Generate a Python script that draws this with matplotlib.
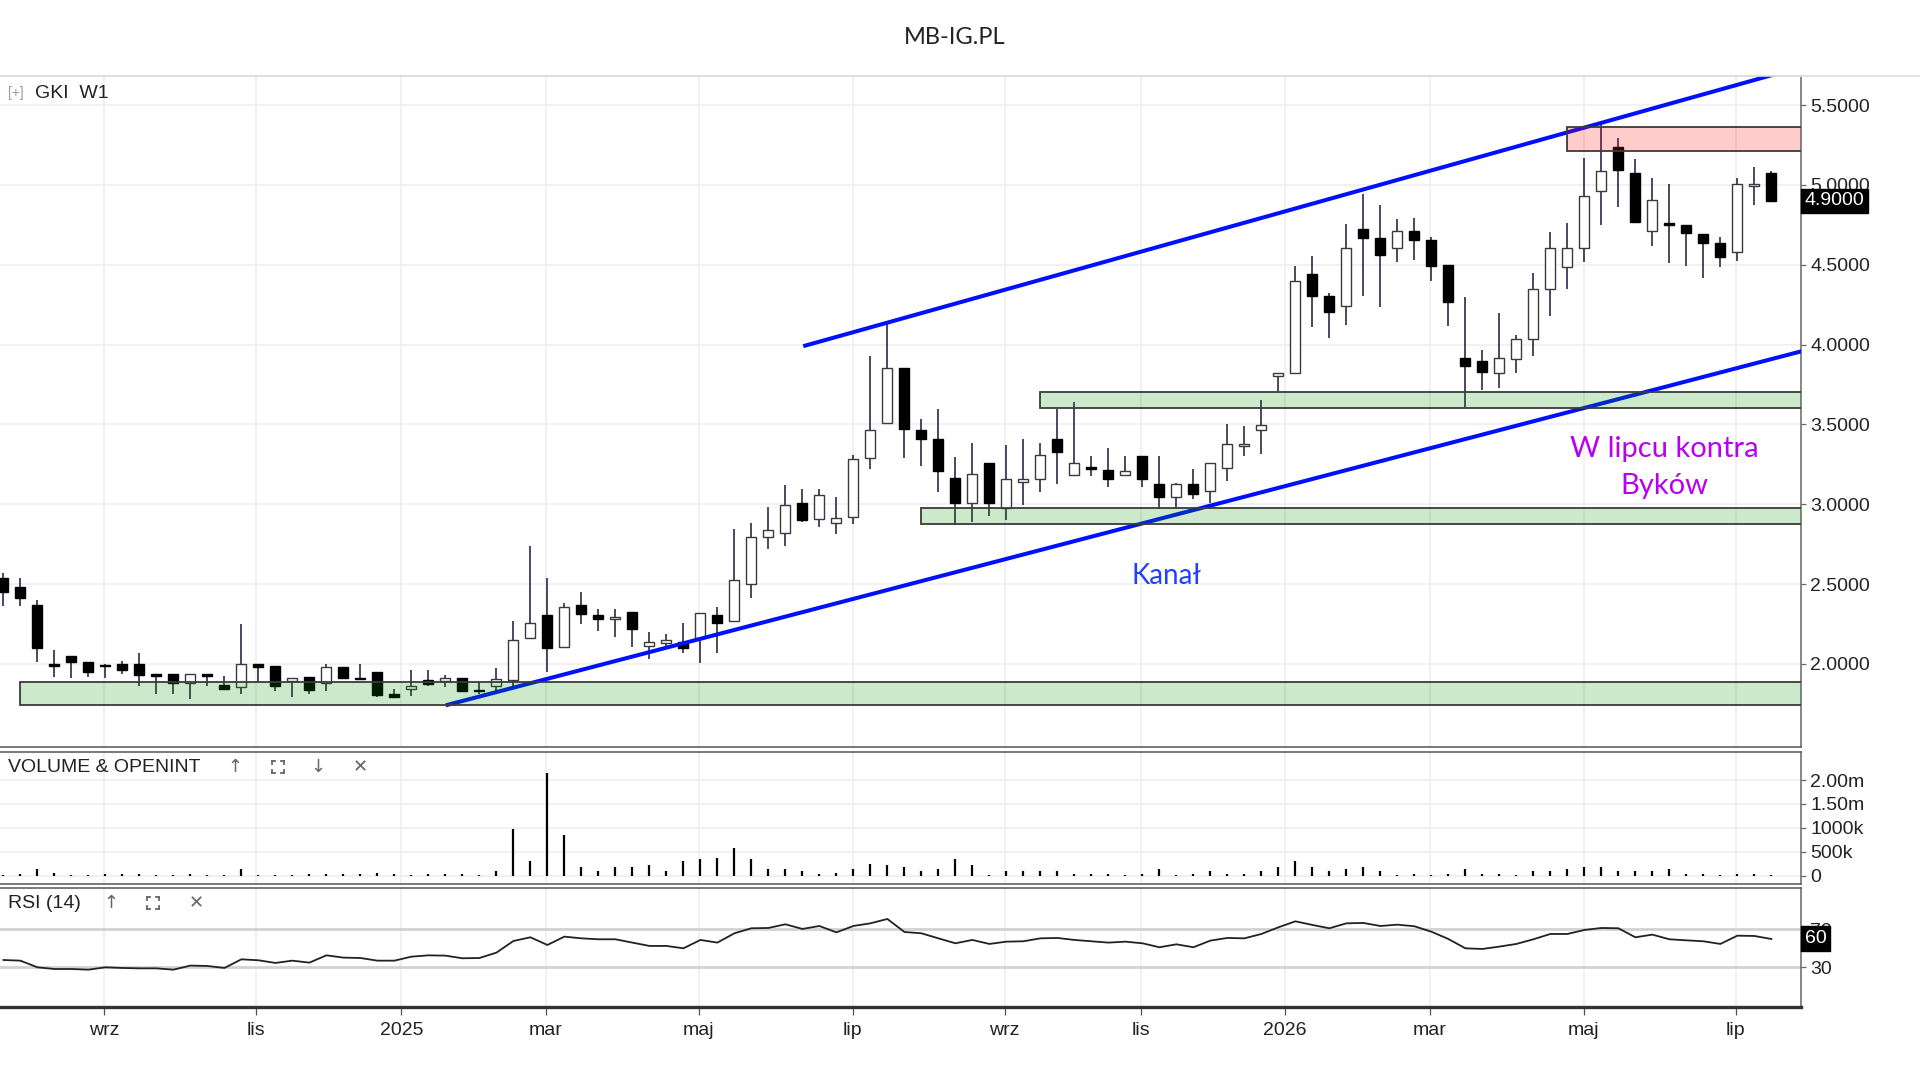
import datetime as dt
import matplotlib
matplotlib.use("Agg")
import matplotlib.pyplot as plt
import matplotlib.dates as mdates
import matplotlib.transforms as mtransforms
from matplotlib.patches import Rectangle
from matplotlib.lines import Line2D

plt.rcParams['font.family'] = ['Liberation Sans', 'DejaVu Sans']

# ---------------- data (weekly candles) ----------------
opens = [2.54, 2.48, 2.37, 2.00, 2.05, 2.01, 1.99, 2.00, 2.00, 1.94,
         1.94, 1.88, 1.94, 1.866, 1.856, 2.00, 1.986, 1.893, 1.918, 1.883,
         1.979, 1.909, 1.949, 1.811, 1.846, 1.899, 1.893, 1.909, 1.831, 1.862,
         1.90, 2.16, 2.306, 2.104, 2.369, 2.306, 2.279, 2.327, 2.115, 2.129,
         2.14, 2.16, 2.306, 2.269, 2.498, 2.796, 2.821, 3.01, 2.906, 2.883,
         2.921, 3.29, 3.508, 3.852, 3.4625, 3.41, 3.167, 3.008, 3.26, 2.977,
         3.14, 3.156, 3.41, 3.181, 3.233, 3.2125, 3.181, 3.30, 3.129, 3.046,
         3.125, 3.083, 3.227, 3.365, 3.4625, 3.806, 3.819, 4.441, 4.304, 4.241,
         4.726, 4.669, 4.605, 4.709, 4.652, 4.498, 3.914, 3.899, 3.819, 3.907,
         4.034, 4.35, 4.487, 4.603, 4.964, 5.236, 5.074, 4.709, 4.764, 4.747,
         4.69, 4.635, 4.582, 4.994, 5.074]
highs = [2.57, 2.54, 2.40, 2.09, 2.05, 2.01, 2.00, 2.02, 2.07, 1.94,
         1.94, 1.94, 1.94, 1.924, 2.25, 2.00, 1.986, 1.909, 1.918, 2.00,
         1.979, 2.00, 1.949, 1.846, 1.965, 1.963, 1.93, 1.909, 1.889, 1.975,
         2.27, 2.74, 2.54, 2.379, 2.452, 2.342, 2.342, 2.327, 2.198, 2.19,
         2.254, 2.321, 2.358, 2.844, 2.883, 2.983, 3.119, 3.094, 3.094, 3.046,
         3.306, 3.931, 4.133, 3.852, 3.531, 3.594, 3.296, 3.383, 3.26, 3.369,
         3.406, 3.383, 3.594, 3.64, 3.302, 3.352, 3.302, 3.30, 3.302, 3.135,
         3.223, 3.26, 3.50, 3.49, 3.656, 3.823, 4.494, 4.557, 4.325, 4.753,
         4.943, 4.873, 4.785, 4.793, 4.673, 4.498, 4.30, 3.966, 4.198, 4.057,
         4.451, 4.705, 4.762, 5.169, 5.39, 5.291, 5.165, 5.046, 5.006, 4.747,
         4.69, 4.673, 5.046, 5.11, 5.084]
lows = [2.36, 2.36, 2.01, 1.92, 1.91, 1.92, 1.91, 1.94, 1.86, 1.815,
        1.815, 1.78, 1.86, 1.846, 1.815, 1.89, 1.831, 1.794, 1.815, 1.831,
        1.903, 1.903, 1.79, 1.79, 1.80, 1.862, 1.856, 1.825, 1.811, 1.831,
        1.86, 2.16, 1.952, 2.104, 2.248, 2.206, 2.171, 2.108, 2.029, 2.098,
        2.067, 2.004, 2.067, 2.269, 2.41, 2.723, 2.74, 2.89, 2.858, 2.817,
        2.879, 3.223, 3.508, 3.29, 3.2375, 3.077, 2.869, 2.89, 2.927, 2.904,
        2.996, 3.077, 3.125, 3.181, 3.175, 3.108, 3.175, 3.108, 2.973, 2.973,
        3.031, 3.008, 3.146, 3.302, 3.317, 3.708, 3.819, 4.108, 4.044, 4.12,
        4.304, 4.234, 4.519, 4.532, 4.399, 4.114, 3.612, 3.717, 3.728, 3.819,
        3.93, 4.177, 4.35, 4.519, 4.747, 4.859, 4.768, 4.62, 4.508, 4.494,
        4.414, 4.487, 4.525, 4.873, 4.90]
closes = [2.45, 2.41, 2.10, 1.99, 2.01, 1.95, 1.985, 1.96, 1.93, 1.925,
          1.88, 1.94, 1.925, 1.846, 2.00, 1.98, 1.862, 1.909, 1.837, 1.979,
          1.913, 1.905, 1.807, 1.79, 1.862, 1.877, 1.909, 1.831, 1.828, 1.907,
          2.148, 2.258, 2.098, 2.358, 2.31, 2.281, 2.296, 2.217, 2.14, 2.15,
          2.102, 2.321, 2.254, 2.525, 2.792, 2.838, 2.994, 2.904, 3.056, 2.915,
          3.281, 3.463, 3.852, 3.469, 3.406, 3.208, 3.008, 3.1875, 3.008, 3.156,
          3.156, 3.306, 3.327, 3.258, 3.223, 3.16, 3.206, 3.156, 3.046, 3.129,
          3.0625, 3.26, 3.375, 3.375, 3.494, 3.823, 4.399, 4.304, 4.203, 4.605,
          4.667, 4.563, 4.709, 4.658, 4.494, 4.268, 3.865, 3.829, 3.914, 4.034,
          4.35, 4.605, 4.605, 4.93, 5.089, 5.095, 4.768, 4.905, 4.747, 4.698,
          4.635, 4.551, 5.006, 5.006, 4.90]
volume_m = [0.02, 0.03, 0.14, 0.057, 0.02, 0.02, 0.04, 0.03, 0.04, 0.02,
            0.02, 0.04, 0.005, 0.02, 0.14, 0.005, 0.02, 0.02, 0.03, 0.04,
            0.03, 0.04, 0.06, 0.04, 0.02, 0.04, 0.04, 0.03, 0.02, 0.09,
            0.98, 0.30, 2.15, 0.84, 0.17, 0.09, 0.18, 0.18, 0.23, 0.09,
            0.30, 0.34, 0.37, 0.57, 0.34, 0.14, 0.14, 0.09, 0.04, 0.06,
            0.14, 0.25, 0.23, 0.18, 0.09, 0.14, 0.35, 0.23, 0.02, 0.09,
            0.09, 0.09, 0.09, 0.04, 0.04, 0.04, 0.02, 0.04, 0.14, 0.02,
            0.04, 0.09, 0.04, 0.03, 0.09, 0.18, 0.30, 0.18, 0.09, 0.14,
            0.18, 0.09, 0.02, 0.04, 0.02, 0.04, 0.14, 0.04, 0.04, 0.02,
            0.09, 0.09, 0.13, 0.18, 0.19, 0.09, 0.09, 0.09, 0.13, 0.04,
            0.04, 0.02, 0.04, 0.04, 0.02]
rsi = [37.7, 37.0, 30.0, 28.2, 28.2, 27.5, 30.0, 29.3, 28.9, 28.9,
       27.5, 31.8, 31.4, 29.3, 38.4, 37.4, 34.6, 37.0, 34.9, 42.6,
       40.2, 39.8, 37.0, 37.0, 41.2, 42.6, 42.3, 39.5, 39.8, 45.4,
       57.7, 61.6, 53.5, 62.3, 60.5, 59.5, 59.5, 56.0, 52.5, 52.5,
       50.0, 58.8, 56.0, 65.8, 71.1, 71.4, 75.3, 70.4, 73.5, 66.8,
       73.5, 76.3, 80.9, 67.2, 65.8, 60.5, 55.3, 58.8, 54.6, 57.0,
       57.4, 60.5, 60.9, 58.8, 57.4, 56.0, 57.0, 55.3, 51.1, 54.2,
       51.1, 58.1, 60.9, 60.5, 65.1, 72.1, 78.4, 74.6, 71.1, 76.3,
       76.7, 73.5, 74.9, 73.2, 67.5, 59.8, 50.0, 49.3, 51.8, 54.6,
       59.5, 65.1, 65.1, 69.3, 71.4, 71.1, 61.6, 64.4, 59.5, 58.4,
       57.4, 54.6, 63.3, 63.0, 59.8]

first_week = dt.date(2024, 7, 19)

# zones: start candle index (0-based), low, high
zone_start = [1, 54, 61, 92]
zone_low = [1.745, 2.875, 3.605, 5.215]
zone_high = [1.885, 2.975, 3.70, 5.365]
zone_kind = ['support', 'support', 'support', 'resistance']

# trend lines: candle index (0-based, fractional) and price
upper_idx = [47.05, 104.25]
upper_price = [3.99, 5.694]
lower_idx = [26.02, 109.0]
lower_price = [1.741, 4.048]

# month labels and their positions (in candle index units)
month_labels = ['wrz', 'lis', '2025', 'mar', 'maj', 'lip',
                'wrz', 'lis', '2026', 'mar', 'maj', 'lip']
month_tick_idx = [5.92, 14.85, 23.41, 31.91, 40.91, 49.97,
                  58.90, 66.90, 75.39, 83.89, 92.97, 101.89]

price_ticks = [2.0, 2.5, 3.0, 3.5, 4.0, 4.5, 5.0, 5.5]
vol_ticks = [0.0, 0.5, 1.0, 1.5, 2.0]
vol_labels = ['0', '500k', '1000k', '1.50m', '2.00m']
rsi_ticks = [30, 70]
last_price = 4.90
last_rsi = 60

# ---------------- helpers ----------------
dates = [first_week + dt.timedelta(days=7 * i) for i in range(len(opens))]
xd = mdates.date2num(dates)
x0 = xd[0]


def at_idx(i):
    return x0 + 7.0 * i


W, H = 1920, 1080
fig = plt.figure(figsize=(19.2, 10.8), dpi=100)
fig.patch.set_facecolor('white')

right = 1801 / W
ax = fig.add_axes([0, 1 - 747 / H, right, (747 - 76) / H])
axv = fig.add_axes([0, 1 - 884 / H, right, (884 - 752) / H], sharex=ax)
axr = fig.add_axes([0, 1 - 1007 / H, right, (1007 - 888) / H], sharex=ax)

xlim = (x0 - 1.4, x0 + 740.2)
tick_nums = [at_idx(i) for i in month_tick_idx]
grid_c = '#eeeeee'

for a in (ax, axv, axr):
    a.set_xlim(*xlim)
    a.set_xticks(tick_nums)
    a.grid(True, color=grid_c, lw=1.1)
    a.set_axisbelow(True)
    a.yaxis.tick_right()
    a.spines['left'].set_visible(False)
    for s in ('top', 'bottom'):
        a.spines[s].set_color('#555555')
        a.spines[s].set_linewidth(1.1)
    a.spines['right'].set_color('#666666')
    a.spines['right'].set_linewidth(1.1)
    a.tick_params(axis='y', direction='out', length=3.5, width=0.9, pad=3,
                  labelsize=14, colors='#666666', labelcolor='#222222')
    a.tick_params(axis='x', length=0, labelbottom=False)

ax.spines['top'].set_color('#dddddd')
axr.spines['bottom'].set_linewidth(2.4)
axr.spines['bottom'].set_color('#333333')

# ---------------- main price panel ----------------
ax.set_ylim(1.48, 5.682)
ax.set_yticks(price_ticks)
ax.set_yticklabels(['%.4f' % p for p in price_ticks])

ax.vlines(xd, lows, highs, colors='#16163e', lw=1.1, zorder=2)
bottoms, heights, faces, edges = [], [], [], []
for o, c in zip(opens, closes):
    bottoms.append(min(o, c))
    heights.append(max(abs(c - o), 0.008))
    up = c >= o
    faces.append('white' if up else 'black')
    edges.append('#3a3a3a' if up else 'black')
ax.bar(xd, heights, bottom=bottoms, width=4.2, color=faces,
       edgecolor=edges, linewidth=1.0, zorder=3)

# trend lines
ax.plot([at_idx(i) for i in upper_idx], upper_price, color='#0010ff',
        lw=2.9, solid_capstyle='butt', zorder=4)
ax.plot([at_idx(i) for i in lower_idx], lower_price, color='#0010ff',
        lw=2.9, solid_capstyle='butt', zorder=4)

# zones
for s, lo, hi, kind in zip(zone_start, zone_low, zone_high, zone_kind):
    fc = (0.0, 0.57, 0.0, 0.2) if kind == 'support' else (1.0, 0.0, 0.0, 0.2)
    r = Rectangle((at_idx(s), lo), xlim[1] + 30 - at_idx(s), hi - lo,
                  facecolor=fc, edgecolor='#3a3a3a', lw=1.3, zorder=5)
    ax.add_patch(r)

ax.text(at_idx(68.4), 2.55, 'Kanał', color='#1f40ff', fontsize=20,
        family=['Lato', 'DejaVu Sans'], ha='center', va='center', zorder=6)
ax.text(at_idx(97.7), 3.23, 'W lipcu kontra\nByków', color='#b800f0',
        fontsize=21, family=['Lato', 'DejaVu Sans'], ha='center',
        va='center', linespacing=1.55, zorder=6)

# last price tag
trans_p = mtransforms.blended_transform_factory(ax.transAxes, ax.transData)
ax.text(1.002, last_price, '%.4f' % last_price, transform=trans_p,
        ha='left', va='center', color='white', fontsize=14, zorder=10,
        bbox=dict(boxstyle='square,pad=0.18', facecolor='black',
                  edgecolor='black'))

# ---------------- volume panel ----------------
axv.set_ylim(-0.176, 2.586)
axv.set_yticks(vol_ticks)
axv.set_yticklabels(vol_labels)
axv.vlines(xd, 0, volume_m, colors='black', lw=1.6, zorder=3)

# ---------------- RSI panel ----------------
axr.set_ylim(-11.8, 113.5)
axr.set_yticks(rsi_ticks)
axr.set_yticklabels([str(t) for t in rsi_ticks])
axr.grid(False, axis='y')
for lvl in rsi_ticks:
    axr.axhline(lvl, color='#d2d2d2', lw=2.0, zorder=1)
axr.plot(xd, rsi, color='#222222', lw=1.3, zorder=3)
trans_r = mtransforms.blended_transform_factory(axr.transAxes, axr.transData)
axr.text(1.002, last_rsi, str(last_rsi), transform=trans_r, ha='left',
         va='center', color='white', fontsize=14, zorder=10,
         bbox=dict(boxstyle='square,pad=0.2', facecolor='black',
                   edgecolor='black'))
axr.set_xticklabels(month_labels)
axr.tick_params(axis='x', length=5.5, width=0.9, direction='out',
                colors='#555555', labelcolor='#222222', labelsize=14,
                pad=5, labelbottom=True)

# ---------------- figure furniture ----------------
fig.add_artist(Line2D([0, 1], [1 - 75.5 / H, 1 - 75.5 / H], color='#dddddd',
                      lw=1.2, transform=fig.transFigure))
fig.text(955 / W, 1 - 38 / H, 'MB-IG.PL', ha='center', va='center',
         fontsize=17, family=['Lato', 'DejaVu Sans'], color='#222222')
fig.text(8 / W, 1 - 93 / H, '[+]', ha='left', va='center', fontsize=10,
         color='#999999')
fig.text(35 / W, 1 - 93 / H, 'GKI  W1', ha='left', va='center',
         fontsize=14, color='#222222')


def corners_icon(cx, cy, half=6, arm=3, color='#666666'):
    """Small 'expand' icon (four corner brackets), no font has this glyph."""
    for sx in (-1, 1):
        for sy in (-1, 1):
            px, py = cx + sx * half, cy + sy * half
            fig.add_artist(Line2D([px / W, px / W], [1 - py / H, 1 - (py - sy * arm) / H],
                                  color=color, lw=1.3, transform=fig.transFigure))
            fig.add_artist(Line2D([px / W, (px - sx * arm) / W], [1 - py / H, 1 - py / H],
                                  color=color, lw=1.3, transform=fig.transFigure))


vol_y = 767
fig.text(8 / W, 1 - vol_y / H, 'VOLUME & OPENINT', ha='left', va='center',
         fontsize=14, color='#222222')
for px, sym in zip([235, 318, 360], ['↑', '↓', '✕']):
    fig.text(px / W, 1 - vol_y / H, sym, ha='center', va='center', fontsize=13,
             color='#666666', family=['DejaVu Sans'])
corners_icon(278, vol_y)

rsi_y = 903
fig.text(8 / W, 1 - rsi_y / H, 'RSI (14)', ha='left', va='center',
         fontsize=14, color='#222222')
for px, sym in zip([111, 196], ['↑', '✕']):
    fig.text(px / W, 1 - rsi_y / H, sym, ha='center', va='center', fontsize=13,
             color='#666666', family=['DejaVu Sans'])
corners_icon(153, rsi_y)

fig.savefig('out.png', dpi=100, facecolor='white')
